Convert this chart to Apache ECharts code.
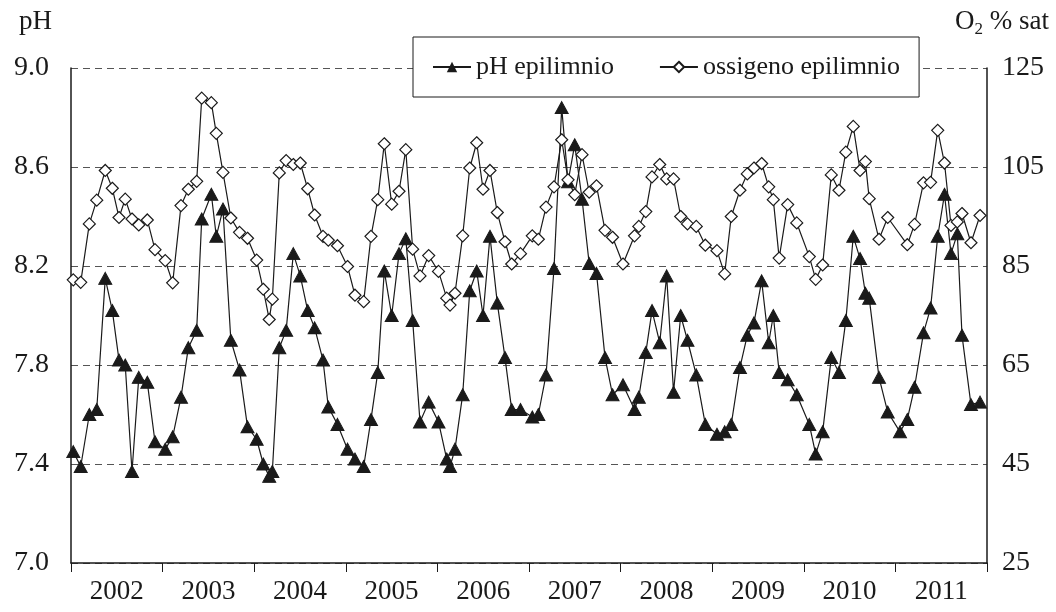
<!DOCTYPE html>
<html>
<head>
<meta charset="utf-8">
<script src="https://cdn.jsdelivr.net/npm/echarts@6/dist/echarts.min.js"></script>
<style>
	html, body { margin: 0; padding: 0; background: #fff; }
	#chart { width: 1056px; height: 612px; }
</style>
</head>
<body>
<div id="chart"></div>
<script>
	// sampling dates as decimal years
	var dates = [
		2002.025, 2002.106, 2002.200, 2002.281, 2002.374, 2002.451, 2002.524, 2002.592, 2002.666, 2002.740, 2002.833, 2002.917,
		2003.029, 2003.110, 2003.201, 2003.281, 2003.372, 2003.427, 2003.532, 2003.586, 2003.659, 2003.745, 2003.840, 2003.927,
		2004.027, 2004.099, 2004.164, 2004.198, 2004.274, 2004.349, 2004.427, 2004.503, 2004.584, 2004.660, 2004.751, 2004.809, 2004.909,
		2005.019, 2005.100, 2005.195, 2005.275, 2005.349, 2005.420, 2005.501, 2005.581, 2005.655, 2005.730, 2005.810, 2005.905,
		2006.012, 2006.102, 2006.138, 2006.192, 2006.276, 2006.353, 2006.429, 2006.498, 2006.574, 2006.654, 2006.738, 2006.811, 2006.907,
		2007.036, 2007.102, 2007.186, 2007.273, 2007.357, 2007.426, 2007.499, 2007.579, 2007.657, 2007.737, 2007.830, 2007.912,
		2008.026, 2008.152, 2008.199, 2008.275, 2008.343, 2008.427, 2008.503, 2008.578, 2008.656, 2008.730, 2008.826, 2008.925,
		2009.052, 2009.136, 2009.208, 2009.303, 2009.383, 2009.456, 2009.540, 2009.617, 2009.667, 2009.731, 2009.824, 2009.923,
		2010.060, 2010.130, 2010.206, 2010.300, 2010.384, 2010.459, 2010.540, 2010.614, 2010.672, 2010.714, 2010.821, 2010.916,
		2011.050, 2011.130, 2011.209, 2011.307, 2011.384, 2011.462, 2011.536, 2011.607, 2011.676, 2011.727, 2011.825, 2011.924
	];

	var phValues = [
		7.45, 7.39, 7.60, 7.62, 8.15, 8.02, 7.82, 7.80, 7.37, 7.75, 7.73, 7.49,
		7.46, 7.51, 7.67, 7.87, 7.94, 8.39, 8.49, 8.32, 8.43, 7.90, 7.78, 7.55,
		7.50, 7.40, 7.35, 7.37, 7.87, 7.94, 8.25, 8.16, 8.02, 7.95, 7.82, 7.63, 7.56,
		7.46, 7.42, 7.39, 7.58, 7.77, 8.18, 8.00, 8.25, 8.31, 7.98, 7.57, 7.65,
		7.57, 7.42, 7.39, 7.46, 7.68, 8.10, 8.18, 8.00, 8.32, 8.05, 7.83, 7.62, 7.62,
		7.59, 7.60, 7.76, 8.19, 8.84, 8.54, 8.69, 8.47, 8.21, 8.17, 7.83, 7.68,
		7.72, 7.62, 7.67, 7.85, 8.02, 7.89, 8.16, 7.69, 8.00, 7.90, 7.76, 7.56,
		7.52, 7.53, 7.56, 7.79, 7.92, 7.97, 8.14, 7.89, 8.00, 7.77, 7.74, 7.68,
		7.56, 7.44, 7.53, 7.83, 7.77, 7.98, 8.32, 8.23, 8.09, 8.07, 7.75, 7.61,
		7.53, 7.58, 7.71, 7.93, 8.03, 8.32, 8.49, 8.25, 8.33, 7.92, 7.64, 7.65
	];

	var o2Values = [
		82.2, 81.7, 93.5, 98.3, 104.3, 100.7, 94.8, 98.5, 94.5, 93.3, 94.3, 88.3,
		86.1, 81.6, 97.2, 100.5, 102.1, 118.9, 118.0, 111.8, 103.9, 94.7, 91.8, 90.6,
		86.2, 80.3, 74.2, 78.3, 103.8, 106.3, 105.5, 105.8, 100.6, 95.3, 91.0, 90.2, 89.1,
		84.9, 79.1, 77.8, 91.0, 98.4, 109.7, 97.5, 100.1, 108.5, 88.4, 83.0, 87.1,
		83.9, 78.5, 77.1, 79.5, 91.1, 104.8, 109.9, 100.5, 104.3, 95.8, 89.9, 85.4, 87.5,
		91.1, 90.4, 96.9, 101.0, 110.5, 102.4, 99.4, 107.5, 99.9, 101.2, 92.2, 90.8,
		85.4, 91.1, 93.0, 96.0, 103.0, 105.5, 102.6, 102.6, 95.0, 93.5, 93.0, 89.2,
		88.1, 83.4, 95.0, 100.3, 103.6, 104.8, 105.7, 101.0, 98.4, 86.6, 97.4, 93.7,
		86.9, 82.3, 85.2, 103.4, 100.3, 108.0, 113.2, 104.3, 106.1, 98.6, 90.4, 94.8,
		null, 89.3, 93.4, 101.8, 101.9, 112.4, 105.8, 93.2, 93.9, 95.6, 89.7, 95.2
	];

	var years = ['2002', '2003', '2004', '2005', '2006', '2007', '2008', '2009', '2010', '2011'];

	var phTicks = { min: 7.0, max: 9.0, interval: 0.4 };
	var o2Ticks = { min: 25, max: 125, interval: 20 };

	var font = 'Liberation Serif, Times New Roman, serif';
	var ink = '#1a1a1a';

	var myChart = echarts.init(document.getElementById('chart'));

	var option = {
		backgroundColor: '#fff',
		animation: false,
		grid: {
			left: 71,
			right: 69,
			top: 68,
			bottom: 49
		},
		legend: {
			left: 413,
			top: 37,
			padding: [17, 19],
			itemGap: 45,
			itemWidth: 38,
			itemHeight: 13,
			backgroundColor: '#fff',
			borderColor: ink,
			borderWidth: 1,
			borderRadius: 0,
			textStyle: {
				fontFamily: font,
				fontSize: 26,
				color: ink
			},
			data: ['pH epilimnio', 'ossigeno epilimnio']
		},
		graphic: [{
				type: 'text',
				left: 19,
				top: 8,
				style: {
					text: 'pH',
					font: '27px ' + font,
					fill: ink
				}
			},
			{
				type: 'text',
				left: 955,
				top: 8,
				style: {
					text: '{a|O}{b|2}{a| % sat}',
					fill: ink,
					rich: {
						a: { fontFamily: font, fontSize: 27, fill: ink },
						b: { fontFamily: font, fontSize: 17, fill: ink, padding: [16, 0, 0, 0] }
					}
				}
			}
		],
		xAxis: [{
				type: 'value',
				min: 2002,
				max: 2012,
				show: false
			},
			{
				type: 'category',
				position: 'bottom',
				boundaryGap: true,
				data: years,
				axisLine: {
					lineStyle: { color: ink, width: 1.5 }
				},
				axisTick: {
					show: true,
					length: 9,
					interval: 0,
					lineStyle: { color: ink }
				},
				axisLabel: {
					fontFamily: font,
					fontSize: 27,
					color: ink,
					margin: 15
				},
				splitLine: { show: false }
			}
		],
		yAxis: [{
				type: 'value',
				min: phTicks.min,
				max: phTicks.max,
				interval: phTicks.interval,
				axisLine: {
					show: true,
					lineStyle: { color: ink, width: 1.5 }
				},
				axisTick: { show: false },
				axisLabel: {
					fontFamily: font,
					fontSize: 28,
					color: ink,
					margin: 22,
					formatter: function(v) { return v.toFixed(1); }
				},
				splitLine: {
					show: true,
					lineStyle: { color: '#555', type: [7, 5], width: 1 }
				}
			},
			{
				type: 'value',
				min: o2Ticks.min,
				max: o2Ticks.max,
				interval: o2Ticks.interval,
				position: 'right',
				axisLine: {
					show: true,
					lineStyle: { color: ink, width: 1.5 }
				},
				axisTick: { show: false },
				axisLabel: {
					fontFamily: font,
					fontSize: 28,
					color: ink,
					margin: 15
				},
				splitLine: { show: false }
			}
		],
		series: [{
				name: 'pH epilimnio',
				type: 'line',
				xAxisIndex: 0,
				yAxisIndex: 0,
				data: dates.map(function(d, i) { return [d, phValues[i]]; }),
				symbol: 'triangle',
				symbolSize: [13, 12],
				itemStyle: { color: ink, borderColor: ink },
				lineStyle: { color: ink, width: 1.2 },
				z: 2
			},
			{
				name: 'ossigeno epilimnio',
				type: 'line',
				xAxisIndex: 0,
				yAxisIndex: 1,
				connectNulls: true,
				data: dates.map(function(d, i) { return [d, o2Values[i]]; }),
				symbol: 'diamond',
				symbolSize: [12, 12],
				itemStyle: { color: '#fff', borderColor: ink, borderWidth: 1.2 },
				lineStyle: { color: ink, width: 1.2 },
				z: 3
			}
		]
	};

	myChart.setOption(option);
</script>
</body>
</html>
